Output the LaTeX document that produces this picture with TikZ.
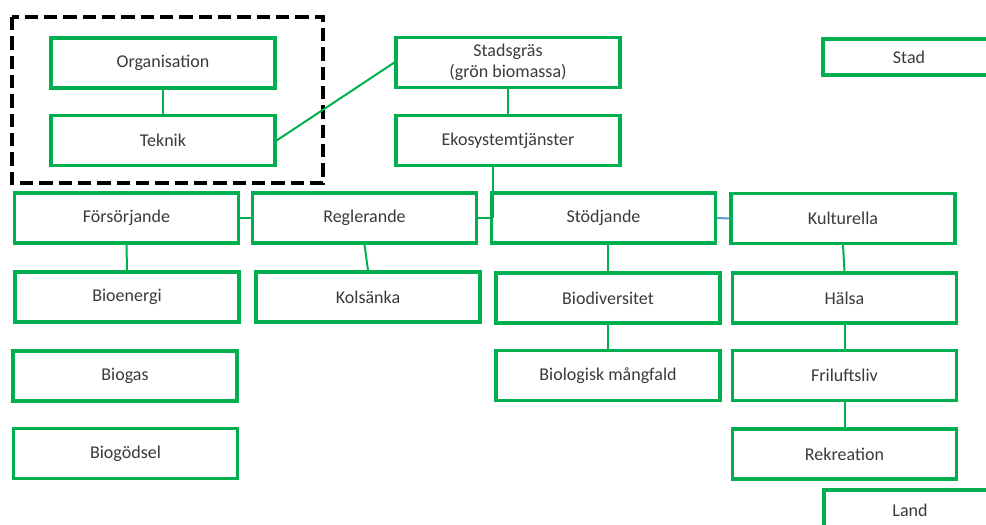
\documentclass[tikz,border=0pt]{standalone}
\usepackage{fontspec}
\setmainfont{Carlito}
\definecolor{boxgreen}{HTML}{00B050}
\definecolor{linkblue}{HTML}{5B9BD5}
\definecolor{txt}{HTML}{3A3A3A}
\tikzset{
  box/.style={draw=boxgreen, line width=2.4pt, fill=white, text=txt,
    minimum width=168pt, minimum height=37.5pt, inner sep=0pt, align=center,
    font=\fontsize{13.5pt}{15.5pt}\selectfont},
  link/.style={draw=boxgreen, line width=1.5pt},
  bluelink/.style={draw=linkblue, line width=1.5pt},
  group/.style={draw=black, line width=3pt, dash pattern=on 10pt off 4.5pt}
}
\begin{document}
\begin{tikzpicture}[x=0.75pt,y=-0.75pt]
\useasboundingbox (0,0) rectangle (986,525);
\clip (0,0) rectangle (986,525);
\fill[white] (0,0) rectangle (986,525);
% group frame
\coordinate (g1) at (12,17);
\coordinate (g2) at (323,183);
\draw[group] (g1) rectangle (g2);
% nodes
\node[box] (org) at (163,63) {Organisation};
\node[box] (tek) at (163,140.5) {Teknik};
\node[box] (stads) at (508,62.5) {Stadsgräs\\(grön biomassa)};
\node[box] (eko) at (508,140.5) {Ekosystemtjänster};
\node[box] (fors) at (126.5,218) {Försörjande};
\node[box] (regl) at (364.5,218) {Reglerande};
\node[box] (stod) at (603.5,218) {Stödjande};
\node[box] (kult) at (843,218.5) {Kulturella};
\node[box] (bioe) at (127,297) {Bioenergi};
\node[box] (kols) at (368,297) {Kolsänka};
\node[box] (biod) at (608,298) {Biodiversitet};
\node[box] (hals) at (844.5,298) {Hälsa};
\node[box] (biog) at (125,376) {Biogas};
\node[box] (biom) at (608,375.5) {Biologisk mångfald};
\node[box] (fril) at (844.5,375.5) {Friluftsliv};
\node[box] (biogo) at (125.5,453.5) {Biogödsel};
\node[box] (rekr) at (844.5,454) {Rekreation};
\node[box, minimum width=129pt, minimum height=27pt] (stad) at (909,57) {Stad};
\node[box, minimum width=129pt, minimum height=30pt] (land) at (910,510) {Land};
% connectors
\draw[link] (org.south) -- (tek.north);
\draw[link] (tek.east) -- (stads.west);
\draw[link] (stads.south) -- (eko.north);
\coordinate (ekoj) at (493,218);
\draw[link] (eko.south -| ekoj) -- (ekoj);
\draw[link] (regl.east) -- (ekoj);
\draw[link] (fors.east) -- (regl.west);
\draw[bluelink] (stod.east) -- (kult.west);
\draw[link] (fors.south) -- (bioe.north);
\draw[link] (regl.south) -- (kols.north);
\draw[link] (biod.north |- stod.south) -- (biod.north);
\draw[link] (kult.south) -- (hals.north);
\draw[link] (biod.south) -- (biom.north);
\draw[link] (hals.south) -- (fril.north);
\draw[link] (fril.south) -- (rekr.north);
\end{tikzpicture}
\end{document}
